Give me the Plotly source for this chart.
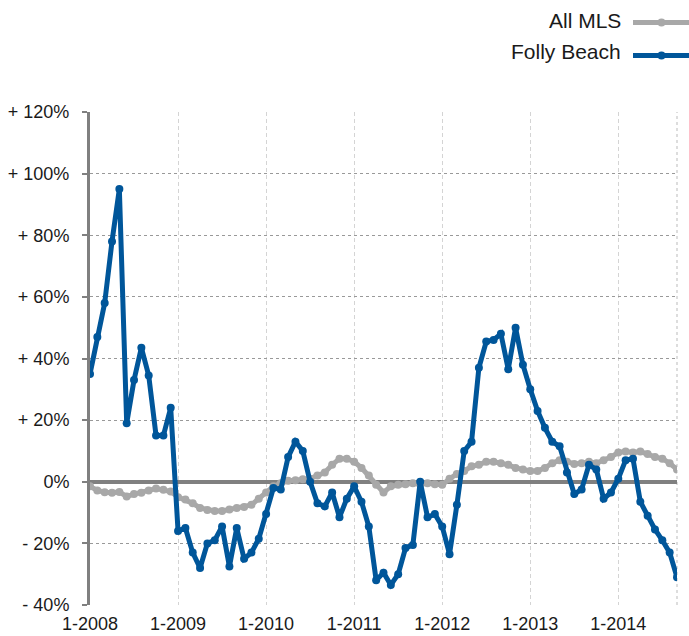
import plotly.graph_objects as go

# ---- data ----
years = list(range(2008, 2015))
months = [f"{m}-{y}" for y in years for m in range(1, 13)][:81]  # 1-2008 .. 9-2014

all_mls = [-1.5, -2.8, -3.4, -3.6, -3.3, -4.8, -4, -3.6, -2.8, -2.2, -2.6, -3.2,
           -5, -5.8, -7, -8.5, -9.2, -9.5, -9.5, -9, -8.5, -8.2, -7.5, -5.5,
           -3.5, -1.5, -0.5, 0.3, 0.5, 0.8, 1, 2, 3, 5.5, 7.5, 7.5,
           6.5, 4.5, 2, -1, -3.5, -1.5, -1, -0.8, -0.5, -0.8, -0.5, -0.8,
           -1, 1, 2.5, 3.5, 5, 5.5, 6.5, 6.5, 6, 5.5, 4.5, 4,
           3.5, 3.5, 4.5, 6, 7, 6.5, 5.8, 6, 6.5, 6, 7, 8,
           9.5, 9.8, 9.5, 9.8, 9, 8, 7.5, 6, 4]

folly_beach = [35, 47, 58, 78, 95, 19, 33, 43.5, 34.5, 15, 15, 24,
               -16, -15, -23, -28, -20, -19, -14.5, -27.5, -15, -25, -23, -18.5,
               -10.5, -2, -2.5, 8, 13, 10, 0, -7, -8, -3.5, -11.5, -5.5,
               -1.5, -6.5, -14.5, -32, -29.5, -33.5, -30, -21.5, -20.5, 0, -11.5, -10.5,
               -14.5, -23.5, -7.5, 10, 13, 37, 45.5, 46, 48, 36.5, 50, 38,
               30, 23, 17.5, 13, 11.5, 3, -4, -2.5, 5.5, 4, -5.5, -3.5,
               1, 7, 7.5, -6.5, -11, -15.5, -19, -23, -31]

series_names = ["All MLS", "Folly Beach"]
y_tick_vals = [120, 100, 80, 60, 40, 20, 0, -20, -40]
y_tick_text = ["+ 120%", "+ 100%", "+ 80%", "+ 60%", "+ 40%", "+ 20%", "0%", "- 20%", "- 40%"]
x_tick_text = [f"1-{y}" for y in years]

GRAY = "#A8A8A8"
BLUE = "#00569A"
AXIS = "#808080"
FONT = "Liberation Sans, Arial, Helvetica, sans-serif"

x = list(range(len(months)))

fig = go.Figure()
fig.add_trace(go.Scatter(x=x, y=all_mls, name=series_names[0], mode="lines+markers",
                         line=dict(color=GRAY, width=5), marker=dict(color=GRAY, size=8),
                         text=months, hoverinfo="text+y"))
fig.add_trace(go.Scatter(x=x, y=folly_beach, name=series_names[1], mode="lines+markers",
                         line=dict(color=BLUE, width=5), marker=dict(color=BLUE, size=8),
                         text=months, hoverinfo="text+y"))

W, H = 689, 636
L, R, T, B = 90, 12, 112, 31
pw, ph = W - L - R, H - T - B


def px(xp):
    return (xp - L) / pw


def py(yp):
    return (H - B - yp) / ph


shapes = [
    # right border dotted
    dict(type="line", xref="paper", yref="paper", x0=1, x1=1, y0=0, y1=1,
         line=dict(color="#BBBBBB", width=1, dash="dot"), layer="below"),
]
annotations = []
legend_rows = [(series_names[0], GRAY, 21, 22.5), (series_names[1], BLUE, 51.5, 55.5)]
for name, col, ty, ly in legend_rows:
    annotations.append(dict(text=name, xref="paper", yref="paper", x=px(623), y=py(ty),
                            xanchor="right", yanchor="middle", showarrow=False,
                            font=dict(size=21, color="#1a1a1a", family=FONT)))
    shapes.append(dict(type="line", xref="paper", yref="paper", x0=px(633), x1=px(692),
                       y0=py(ly), y1=py(ly), line=dict(color=col, width=5)))
    shapes.append(dict(type="circle", xref="paper", yref="paper", x0=px(657.5), x1=px(665.5),
                       y0=py(ly + 4), y1=py(ly - 4), fillcolor=col, line=dict(color=col, width=0)))

fig.update_layout(
    width=W, height=H,
    margin=dict(l=L, r=R, t=T, b=B),
    paper_bgcolor="white", plot_bgcolor="white",
    showlegend=False,
    font=dict(family=FONT, size=18, color="#1a1a1a"),
    shapes=shapes, annotations=annotations,
    xaxis=dict(range=[0, len(months) - 1], tickvals=[12 * i for i in range(len(years))],
               ticktext=x_tick_text, showgrid=True, gridcolor="#D4D4D4", gridwidth=1,
               griddash="4px,3px", zeroline=False, showline=False, ticks="",
               tickfont=dict(size=18), ticklabelstandoff=6, automargin=False,
               fixedrange=True),
    yaxis=dict(range=[-40, 120], tickvals=y_tick_vals, ticktext=y_tick_text,
               showgrid=True, gridcolor="#999999", gridwidth=1, griddash="dot",
               zeroline=True, zerolinecolor=AXIS, zerolinewidth=4,
               showline=True, linecolor=AXIS, linewidth=3,
               ticks="outside", ticklen=5, tickwidth=2, tickcolor=AXIS,
               tickfont=dict(size=18), ticklabelstandoff=9, automargin=False,
               fixedrange=True),
)

fig.write_html("out.html", config={"displayModeBar": False},
               post_script="document.body.style.margin='0';document.body.style.overflow='hidden';")
